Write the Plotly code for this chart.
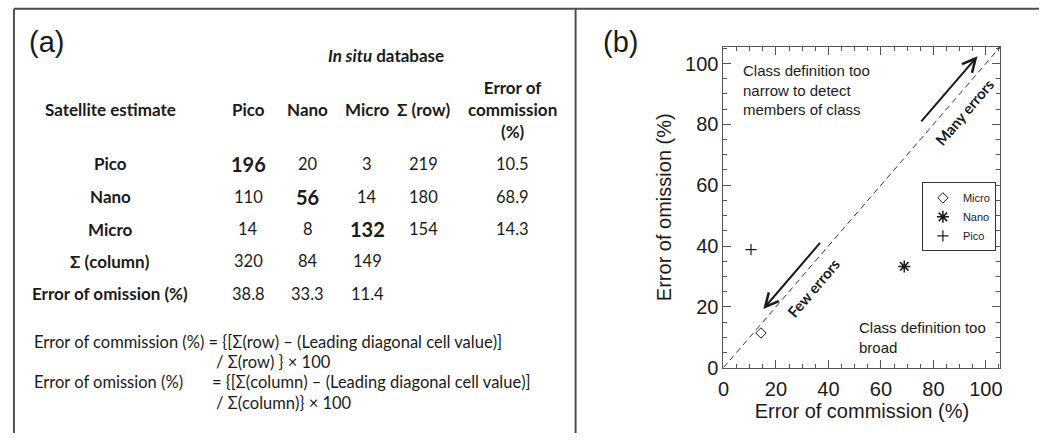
import plotly.graph_objects as go

W, H = 1041, 444

# ---------------- data ----------------
classes = ["Pico", "Nano", "Micro"]
confusion = [[196, 20, 3],
             [110, 56, 14],
             [14, 8, 132]]
row_sums = [219, 180, 154]
col_sums = [320, 84, 149]
commission_err = [10.5, 68.9, 14.3]
omission_err = [38.8, 33.3, 11.4]
axis_ticks = [0, 20, 40, 60, 80, 100]
axis_range = [0, 105.5]

# ---------------- helpers ----------------
def px(x):
    return x / W

def py(y):
    return 1 - y / H

TFONT = "Lato"
PFONT = "Liberation Sans, Arial"
INK = "#1a1a1a"

ann = []

def txt(x, y, s, size=17, xanchor="center", font=TFONT, color=INK):
    ann.append(dict(x=px(x), y=py(y), xref="paper", yref="paper", text=s,
                    showarrow=False, xanchor=xanchor, yanchor="middle",
                    font=dict(family=font, size=size, color=color), align="center"))

# ---------------- panel (a): table ----------------
label_x = 105
col_x = [244, 304, 364]
sum_x = 421
err_x = 510
header_y = 112
row_y = [168, 202, 235]
colsum_y = 268
omis_y = 301

txt(41, 43, "(a)", size=29, font=PFONT)
txt(383, 57, "<b><i>In situ</i> database</b>")
txt(label_x, header_y, "<b>Satellite estimate</b>")
for c, x in zip(classes, col_x):
    txt(x, header_y, f"<b>{c}</b>")
txt(sum_x, header_y, "<b>Σ (row)</b>")
txt(err_x, header_y, "<b>Error of<br>commission<br>(%)</b>")

for i, c in enumerate(classes):
    txt(label_x, row_y[i], f"<b>{c}</b>")
    for j in range(3):
        if i == j:
            txt(col_x[j], row_y[i], f"<b>{confusion[i][j]}</b>", size=20)
        else:
            txt(col_x[j], row_y[i], f"{confusion[i][j]}", size=16.5)
    txt(sum_x, row_y[i], f"{row_sums[i]}", size=16.5)
    txt(err_x, row_y[i], f"{commission_err[i]:.1f}", size=16.5)

txt(label_x, colsum_y, "<b>Σ (column)</b>")
for j in range(3):
    txt(col_x[j], colsum_y, f"{col_sums[j]}", size=16.5)
txt(label_x, omis_y, "<b>Error of omission (%)</b>")
for j in range(3):
    txt(col_x[j], omis_y, f"{omission_err[j]:.1f}", size=16.5)

FS = 16.5
txt(26, 351, "Error of commission (%) = {[Σ(row) – (Leading diagonal cell value)]", size=FS, xanchor="left")
txt(210, 371, "/ Σ(row) } × 100", size=FS, xanchor="left")
txt(26, 392, "Error of omission (%)", size=FS, xanchor="left")
txt(206, 392, "= {[Σ(column) – (Leading diagonal cell value)]", size=FS, xanchor="left")
txt(210, 413, "/ Σ(column)} × 100", size=FS, xanchor="left")

# ---------------- panel (b): scatter ----------------
txt(619, 43, "(b)", size=29, font=PFONT)

fig = go.Figure()

marker_styles = {
    "Micro": dict(symbol="diamond-open", size=8, line=dict(width=1, color=INK), color=INK),
    "Nano": dict(symbol="asterisk", size=10, line=dict(width=1.5, color=INK), color=INK),
    "Pico": dict(symbol="cross-thin", size=8, line=dict(width=1.2, color=INK), color=INK),
}
for name in ["Micro", "Nano", "Pico"]:
    k = classes.index(name)
    fig.add_trace(go.Scatter(x=[commission_err[k]], y=[omission_err[k]],
                             mode="markers", name=name,
                             marker=marker_styles[name]))

# 1:1 line
fig.add_shape(type="line", xref="x", yref="y",
              x0=axis_range[0], y0=axis_range[0], x1=axis_range[1], y1=axis_range[1],
              line=dict(color="#333", width=1, dash="6px,4px"))

# in-plot annotations (data coords)
def dtxt(x, y, s, size=15, xanchor="left", angle=0, font=PFONT):
    ann.append(dict(x=x, y=y, xref="x", yref="y", text=s, showarrow=False,
                    xanchor=xanchor, yanchor="middle", align="left", textangle=angle,
                    font=dict(family=font, size=size, color=INK)))

dtxt(6.8, 91.4, "Class definition too<br>narrow to detect<br>members of class")
dtxt(51.0, 9.9, "Class definition too<br>broad")
diag_angle = -49.7
dtxt(91.8, 84.0, "<b>Many errors</b>", size=15, xanchor="center", angle=diag_angle, font=TFONT)
dtxt(34.2, 26.2, "<b>Few errors</b>", size=15, xanchor="center", angle=diag_angle, font=TFONT)

arrows = [((96.8, 102.4), (74.9, 80.5)), ((15.2, 19.3), (37.3, 41.5))]
for (hx, hy), (tx, ty) in arrows:
    ann.append(dict(x=hx, y=hy, ax=tx, ay=ty, xref="x", yref="y", axref="x", ayref="y",
                    text="", showarrow=True, arrowhead=5, arrowsize=1.3, arrowwidth=2,
                    arrowcolor=INK))

# ---------------- frame ----------------
frame_col = "#4d4d4d"
for sh in [dict(x0=px(8), x1=px(W), y0=py(9), y1=py(9)),
           dict(x0=px(8), x1=px(8), y0=py(9), y1=0),
           dict(x0=px(574), x1=px(574), y0=py(9), y1=0)]:
    fig.add_shape(type="line", xref="paper", yref="paper", line=dict(color=frame_col, width=2), **sh)

axis_common = dict(
    range=axis_range, tickvals=axis_ticks, ticks="inside", ticklen=8, tickwidth=1,
    tickcolor="#555", showline=True, linecolor="#555", linewidth=1, mirror="ticks",
    showgrid=False, zeroline=False,
    minor=dict(dtick=5, ticks="inside", ticklen=4, tickcolor="#555", showgrid=False),
    tickfont=dict(family=PFONT, size=20, color=INK),
)

fig.update_layout(
    width=W, height=H,
    margin=dict(l=0, r=0, t=0, b=0),
    paper_bgcolor="white", plot_bgcolor="white",
    xaxis=dict(domain=[px(723), px(1002)],
               title=dict(text="Error of commission (%)", font=dict(family=PFONT, size=20, color=INK), standoff=2),
               ticklabelstandoff=3, **axis_common),
    yaxis=dict(domain=[py(377), py(48)],
               title=dict(text="Error of omission (%)", font=dict(family=PFONT, size=20, color=INK), standoff=8),
               **axis_common),
    showlegend=True,
    legend=dict(x=px(923), y=py(187), xanchor="left", yanchor="top",
                bgcolor="white", bordercolor="#333", borderwidth=1,
                font=dict(family=PFONT, size=11, color=INK), itemwidth=30,
                tracegroupgap=0),
    annotations=ann,
)

fig.write_html("out.html")
